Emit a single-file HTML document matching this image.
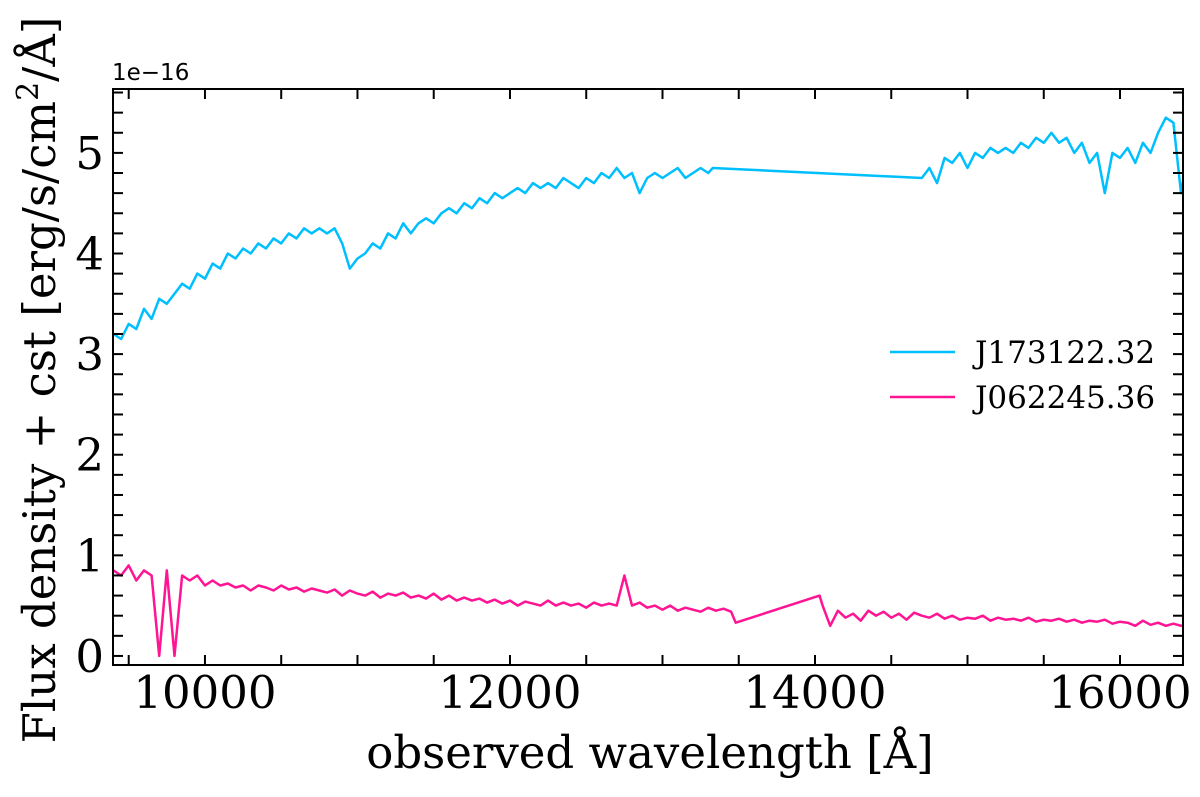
<!DOCTYPE html>
<html><head><meta charset="utf-8"><style>
html,body{margin:0;padding:0;background:#fff;}
svg{display:block;}
.tl{font-family:"DejaVu Serif","Liberation Serif",serif;font-size:45px;fill:#000;}
</style></head><body>
<svg id="chart" width="1200" height="797" viewBox="0 0 1200 797" xmlns="http://www.w3.org/2000/svg">
<defs><clipPath id="pc"><rect x="113" y="89" width="1070" height="576"/></clipPath></defs>
<g id="series" clip-path="url(#pc)"></g>
<rect x="113" y="89" width="1070" height="576" fill="none" stroke="#000" stroke-width="2"/>
<g id="ticks"></g>
<text x="112" y="80" font-family="DejaVu Sans, Liberation Sans, sans-serif" font-size="23">1e−16</text>
<text x="650" y="768" text-anchor="middle" class="tl" style="font-size:45px">observed wavelength [Å]</text>
<text transform="translate(55,380) rotate(-90)" text-anchor="middle" class="tl" style="font-size:45px">Flux density + cst [erg/s/cm<tspan dy="-17" font-size="30">2</tspan><tspan dy="17">/Å]</tspan></text>
<g>
<line x1="890" y1="352" x2="955" y2="352" stroke="#00bfff" stroke-width="2.5"/>
<text x="975" y="363" class="tl" style="font-size:31px">J173122.32</text>
<line x1="890" y1="397" x2="955" y2="397" stroke="#ff1493" stroke-width="2.5"/>
<text x="975" y="408" class="tl" style="font-size:31px">J062245.36</text>
</g>
</svg>
<script>
const xDomain=[9397,16413];
const yDomain=[-0.09,5.635];
const xTickLabels=[10000,12000,14000,16000];
const yTickLabels=[0,1,2,3,4,5];
const step=50;
const blueSeg1Start=9400;
const blueSeg1=[3.2,3.15,3.3,3.25,3.45,3.35,3.55,3.5,3.6,3.7,
3.65,3.8,3.75,3.9,3.85,4.0,3.95,4.05,4.0,4.1,
4.05,4.15,4.1,4.2,4.15,4.25,4.2,4.25,4.2,4.25,
4.1,3.85,3.95,4.0,4.1,4.05,4.2,4.15,4.3,4.2,
4.3,4.35,4.3,4.4,4.45,4.4,4.5,4.45,4.55,4.5,
4.6,4.55,4.6,4.65,4.6,4.7,4.65,4.7,4.65,4.75,
4.7,4.65,4.75,4.7,4.8,4.75,4.85,4.75,4.8,4.6,
4.75,4.8,4.75,4.8,4.85,4.75,4.8,4.85,4.8];
const blueGapX=[13330,14700];
const blueGapY=[4.85,4.75];
const blueSeg2Start=14750;
const blueSeg2=[4.85,4.7,4.95,4.9,5.0,4.85,5.0,4.95,5.05,5.0,
5.05,5.0,5.1,5.05,5.15,5.1,5.2,5.1,5.15,5.0,
5.1,4.9,5.0,4.6,5.0,4.95,5.05,4.9,5.1,5.0,
5.2,5.35,5.3,4.6,5.05];
const pinkSeg1Start=9400;
const pinkSeg1=[0.85,0.8,0.9,0.75,0.85,0.8,0.0,0.85,0.0,0.8,
0.75,0.8,0.7,0.75,0.7,0.72,0.68,0.7,0.65,0.7,
0.68,0.65,0.7,0.66,0.68,0.64,0.67,0.65,0.63,0.66,
0.6,0.65,0.62,0.6,0.64,0.58,0.62,0.6,0.63,0.58,
0.6,0.57,0.62,0.56,0.6,0.55,0.58,0.55,0.57,0.53,
0.56,0.52,0.55,0.5,0.54,0.52,0.5,0.55,0.5,0.53,
0.5,0.52,0.48,0.53,0.5,0.52,0.5,0.8,0.5,0.53,
0.48,0.5,0.46,0.5,0.45,0.48,0.46,0.44,0.48,0.45,
0.47,0.44];
const pinkGapX=[13480,14030];
const pinkGapY=[0.33,0.6];
const pinkSeg2Start=14050;
const pinkSeg2=[0.5,0.3,0.45,0.38,0.42,0.35,0.45,0.4,0.44,0.38,
0.42,0.36,0.43,0.4,0.38,0.42,0.37,0.4,0.36,0.38,
0.37,0.4,0.35,0.38,0.36,0.37,0.35,0.38,0.34,0.36,
0.35,0.37,0.34,0.36,0.33,0.35,0.34,0.36,0.32,0.34,
0.33,0.3,0.35,0.31,0.33,0.3,0.32,0.3,0.31];

const L=113,R=1183,T=89,B=665;
const sx=v=>L+(v-xDomain[0])/(xDomain[1]-xDomain[0])*(R-L);
const sy=v=>B-(v-yDomain[0])/(yDomain[1]-yDomain[0])*(B-T);
const NS="http://www.w3.org/2000/svg";
function buildPts(s1,v1,gx,gy,s2,v2){
  const p=[];
  v1.forEach((v,i)=>p.push([s1+i*step,v]));
  gx.forEach((x,i)=>p.push([x,gy[i]]));
  v2.forEach((v,i)=>p.push([s2+i*step,v]));
  return p;
}
function drawLine(pts,color,name){
  const el=document.createElementNS(NS,'polyline');
  el.setAttribute('points',pts.map(p=>sx(p[0]).toFixed(1)+','+sy(p[1]).toFixed(1)).join(' '));
  el.setAttribute('fill','none');el.setAttribute('stroke',color);el.setAttribute('stroke-width','2.5');
  el.setAttribute('stroke-linejoin','round');
  
  
  document.getElementById('series').appendChild(el);
}
drawLine(buildPts(blueSeg1Start,blueSeg1,blueGapX,blueGapY,blueSeg2Start,blueSeg2),'#00bfff','series-j173122');
drawLine(buildPts(pinkSeg1Start,pinkSeg1,pinkGapX,pinkGapY,pinkSeg2Start,pinkSeg2),'#ff1493','series-j062245');

const tg=document.getElementById('ticks');
function ln(x1,y1,x2,y2,name){
  const l=document.createElementNS(NS,'line');
  l.setAttribute('x1',x1);l.setAttribute('y1',y1);l.setAttribute('x2',x2);l.setAttribute('y2',y2);
  l.setAttribute('stroke','#000');l.setAttribute('stroke-width','2');
  
  
  tg.appendChild(l);
}
function tx(x,y,s,anchor,name){
  const t=document.createElementNS(NS,'text');
  t.setAttribute('x',x);t.setAttribute('y',y);t.setAttribute('text-anchor',anchor);t.setAttribute('class','tl');
  t.textContent=s;
  
  
  tg.appendChild(t);
}
for(let w=9500;w<=16400;w+=500){
  const x=sx(w);
  ln(x,B,x,B-10,'x-tick');ln(x,T,x,T+10,'x-tick-top');
}
xTickLabels.forEach(v=>tx(sx(v),708,String(v),'middle','x-tick-label'));
for(let k=0;k<=28;k++){
  const v=k*0.2;const y=sy(v);if(y<T)continue;
  ln(L,y,L+10,y,'y-tick');ln(R,y,R-10,y,'y-tick-right');
}
yTickLabels.forEach(v=>tx(104,sy(v)+16,String(v),'end','y-tick-label'));
</script>
</body></html>
